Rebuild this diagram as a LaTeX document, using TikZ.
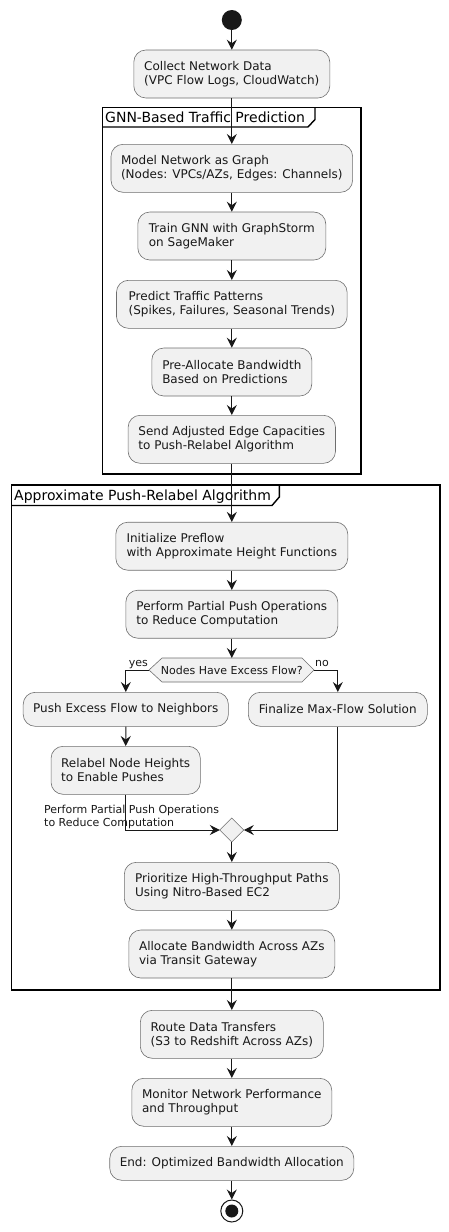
\documentclass[tikz,border=0pt]{standalone}
\usepackage{fontspec}
\setmainfont{DejaVu Sans}
\usepackage{xcolor}
\usepackage{tikz}
\usetikzlibrary{arrows.meta}
\definecolor{ink}{HTML}{181818}
\definecolor{boxfill}{HTML}{F1F1F1}
\definecolor{boxline}{HTML}{6E6E6E}
\tikzset{
  act/.style={draw=boxline, fill=boxfill, line width=0.6pt, rounded corners=12pt,
    inner xsep=10pt, inner ysep=4pt, minimum height=48pt, align=left,
    font=\fontsize{12}{14}\selectfont, text=ink},
  act1/.style={act, minimum height=34pt},
  flow/.style={draw=ink, line width=1pt, -{Stealth[length=10pt, width=10pt, inset=3.5pt]}},
  grp/.style={draw=black, line width=1.4pt},
  ttl/.style={font=\fontsize{14}{16}\selectfont, text=black, inner sep=0pt},
  lbl/.style={font=\fontsize{11}{13}\selectfont, text=ink, inner sep=0pt},
  dec/.style={draw=boxline, fill=boxfill, line width=0.6pt},
  startdot/.style={circle, fill=ink, minimum size=20pt, inner sep=0pt},
  stopdot/.style={circle, draw=ink, fill=white, line width=1pt, minimum size=22pt, inner sep=0pt},
}
\begin{document}
\begin{tikzpicture}[x=1pt, y=-1pt]
  \useasboundingbox (0,0) rectangle (449,1232);
  \pgfmathsetmacro{\mx}{231.8} % main axis

  % group frames
  \draw[grp] (102.7,107.3) rectangle (361,474);
  \draw[grp] (102.7,127) -- (308,127) -- (315,119.5) -- (315,107.3);
  \node[ttl, anchor=base west] (gnnT) at (105,122.5) {GNN-Based Traffic Prediction};
  \draw[grp] (11.3,485) rectangle (440,990);
  \draw[grp] (11.3,505.5) -- (272,505.5) -- (279.3,497) -- (279.3,485);
  \node[ttl, anchor=base west] (prT) at (14,500.5) {Approximate Push-Relabel Algorithm};

  % activities
  \node[startdot] (start) at (\mx,20) {};
  \node[act, minimum width=196pt] (collect) at (\mx,74) {Collect Network Data\\(VPC Flow Logs, CloudWatch)};
  \node[act, minimum width=239pt] (model) at (\mx,168.3) {Model Network as Graph\\(Nodes: VPCs/AZs, Edges: Channels)};
  \node[act, minimum width=188pt] (train) at (\mx,236) {Train GNN with GraphStorm\\on SageMaker};
  \node[act, minimum width=230.7pt] (predict) at (\mx,304.3) {Predict Traffic Patterns\\(Spikes, Failures, Seasonal Trends)};
  \node[act, minimum width=160pt] (prealloc) at (\mx,372) {Pre-Allocate Bandwidth\\Based on Predictions};
  \node[act, minimum width=207.4pt] (send) at (\mx,439.3) {Send Adjusted Edge Capacities\\to Push-Relabel Algorithm};
  \node[act, minimum width=232pt] (init) at (\mx,546.2) {Initialize Preflow\\with Approximate Height Functions};
  \node[act, minimum width=212pt] (partial) at (\mx,614.2) {Perform Partial Push Operations\\to Reduce Computation};

  % decision
  \coordinate (hexL) at (149,670);
  \coordinate (hexR) at (314,670);
  \draw[dec] (hexL) -- (162,658) -- (302,658) -- (hexR) -- (302,682) -- (162,682) -- cycle;
  \node[lbl] (excess) at (\mx,670) {Nodes Have Excess Flow?};
  \node[lbl, anchor=base east] (yesL) at (148,666.5) {yes};
  \node[lbl, anchor=base west] (noL) at (315,666.5) {no};

  \node[act1, minimum width=205pt] (push) at (125.8,709.3) {Push Excess Flow to Neighbors};
  \node[act1, minimum width=179pt] (final) at (337.8,709.3) {Finalize Max-Flow Solution};
  \node[act, minimum width=149.3pt] (relabel) at (125.7,770.3) {Relabel Node Heights\\to Enable Pushes};

  % merge
  \coordinate (mgT) at (\mx,818);
  \coordinate (mgR) at (\mx+12,830);
  \coordinate (mgB) at (\mx,842);
  \coordinate (mgL) at (\mx-12,830);
  \draw[dec] (mgT) -- (mgR) -- (mgB) -- (mgL) -- cycle;
  \node[lbl, align=left, anchor=north west] (loopL) at (44,804.5) {Perform Partial Push Operations\\to Reduce Computation};

  \node[act, minimum width=215pt] (prio) at (\mx,886.3) {Prioritize High-Throughput Paths\\Using Nitro-Based EC2};
  \node[act, minimum width=206pt] (alloc) at (\mx,954) {Allocate Bandwidth Across AZs\\via Transit Gateway};
  \node[act, minimum width=183pt] (route) at (\mx,1034.3) {Route Data Transfers\\(S3 to Redshift Across AZs)};
  \node[act, minimum width=200pt] (monitor) at (\mx,1102.3) {Monitor Network Performance\\and Throughput};
  \node[act1, minimum width=243pt] (endbox) at (\mx,1163.3) {End: Optimized Bandwidth Allocation};
  \node[stopdot] (stop) at (\mx,1211) {};
  \fill[ink] (stop.center) circle (6.5pt);

  % connectors
  \draw[flow] (start) -- (collect);
  \draw[flow] (collect) -- (model);
  \draw[flow] (model) -- (train);
  \draw[flow] (train) -- (predict);
  \draw[flow] (predict) -- (prealloc);
  \draw[flow] (prealloc) -- (send);
  \draw[flow] (send) -- (init);
  \draw[flow] (init) -- (partial);
  \draw[flow] (partial) -- (\mx,658);
  \draw[flow] (hexL) -| (push.north);
  \draw[flow] (hexR) -| (final.north);
  \draw[flow] (push) -- (relabel);
  \draw[flow] (relabel.south) |- (mgL);
  \draw[flow] (final.south) |- (mgR);
  \draw[flow] (mgB) -- (prio);
  \draw[flow] (prio) -- (alloc);
  \draw[flow] (alloc) -- (route);
  \draw[flow] (route) -- (monitor);
  \draw[flow] (monitor) -- (endbox);
  \draw[flow] (endbox) -- (stop);
\end{tikzpicture}
\end{document}
